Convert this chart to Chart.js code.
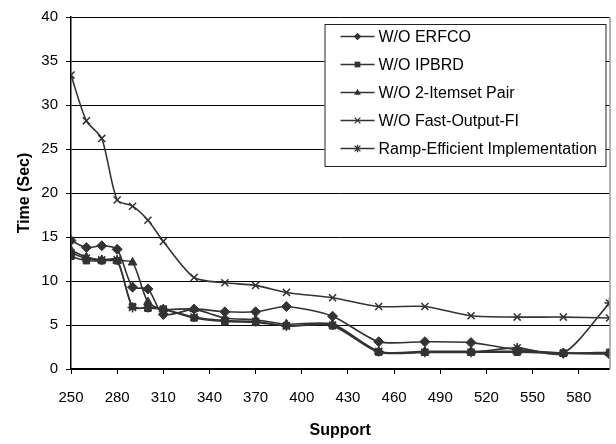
<!DOCTYPE html>
<html><head><meta charset="utf-8">
<script src="https://cdn.jsdelivr.net/npm/chart.js@4/dist/chart.umd.min.js"></script>
<style>html,body{margin:0;padding:0;background:#fff;}#wrap{width:616px;height:444px;position:relative;}</style>
</head><body><div id="wrap"><canvas id="c" width="616" height="444"></canvas></div>
<script>
const supports = [250,260,270,280,290,300,310,330,350,370,390,420,450,480,510,540,570,600];
const xTickValues = [250,280,310,340,370,400,430,460,490,520,550,580];
const seriesNames = ['W/O ERFCO','W/O IPBRD','W/O 2-Itemset Pair','W/O Fast-Output-FI','Ramp-Efficient Implementation'];
const woERFCO    = [14.6,13.8,14.0,13.6,9.3,9.1,6.2,6.8,6.5,6.5,7.1,6.0,3.1,3.1,3.0,2.2,1.8,1.7];
const woIPBRD    = [12.8,12.3,12.3,12.3,7.1,6.9,6.8,5.8,5.4,5.3,4.9,4.9,1.9,1.9,1.9,1.9,1.8,1.9];
const wo2Itemset = [13.5,12.7,12.4,12.3,12.1,7.6,6.8,6.8,5.8,5.6,5.1,5.1,2.0,2.0,2.0,2.0,1.8,1.8];
const woFastOut  = [33.4,28.2,26.2,19.2,18.5,16.9,14.5,10.4,9.8,9.5,8.7,8.1,7.1,7.1,6.05,5.9,5.9,5.8];
const rampEff    = [13.2,12.6,12.4,12.4,7.0,7.0,6.8,5.9,5.5,5.4,4.9,5.0,2.0,1.9,1.9,2.4,1.8,7.5];
const yTickStep = 5, yMin = 0, yMax = 40, xMin = 250, xMax = 600;

const seriesValues = [woERFCO, woIPBRD, wo2Itemset, woFastOut, rampEff];
const styles = [
  {pointStyle:'rectRot', radius:5},
  {pointStyle:'rect', radius:4.5},
  {pointStyle:'triangle', radius:5},
  {pointStyle:'crossRot', radius:5},
  {pointStyle:'star', radius:5}
];
const LINE = '#333333';
const FONT = "'Liberation Sans', Arial, sans-serif";

function drawMarker(ctx, style, x, y, r){
  ctx.save();
  ctx.fillStyle = LINE; ctx.strokeStyle = LINE; ctx.lineWidth = 1.3;
  ctx.beginPath();
  if(style==='rectRot'){ctx.moveTo(x,y-r);ctx.lineTo(x+r,y);ctx.lineTo(x,y+r);ctx.lineTo(x-r,y);ctx.closePath();ctx.fill();}
  else if(style==='rect'){ctx.rect(x-r*0.75,y-r*0.75,r*1.5,r*1.5);ctx.fill();}
  else if(style==='triangle'){ctx.moveTo(x,y-r);ctx.lineTo(x+r*0.9,y+r*0.6);ctx.lineTo(x-r*0.9,y+r*0.6);ctx.closePath();ctx.fill();}
  else if(style==='crossRot'){const d=r*0.75;ctx.moveTo(x-d,y-d);ctx.lineTo(x+d,y+d);ctx.moveTo(x+d,y-d);ctx.lineTo(x-d,y+d);ctx.stroke();}
  else {const d=r*0.75;ctx.moveTo(x-d,y-d);ctx.lineTo(x+d,y+d);ctx.moveTo(x+d,y-d);ctx.lineTo(x-d,y+d);ctx.moveTo(x,y-r);ctx.lineTo(x,y+r);ctx.stroke();}
  ctx.restore();
}

const boxPlugin = {
  id:'boxLegend',
  afterDraw(chart){
    const ctx = chart.ctx, a = chart.chartArea;
    ctx.save();
    ctx.strokeStyle = '#999'; ctx.lineWidth = 1.5;
    ctx.beginPath(); ctx.moveTo(a.right+0.5, a.top); ctx.lineTo(a.right+0.5, a.bottom); ctx.stroke();
    const L = a.right - 285, T = a.top + 7, W = 281, H = 142;
    ctx.fillStyle = '#fff'; ctx.fillRect(L, T, W, H);
    ctx.strokeStyle = '#222'; ctx.lineWidth = 1;
    ctx.strokeRect(L+0.5, T+0.5, W, H);
    ctx.font = '16px ' + FONT; ctx.textBaseline = 'middle'; ctx.textAlign = 'left'; ctx.fillStyle = '#000';
    seriesNames.forEach((name,i)=>{
      const y = T + 12.5 + i*28;
      ctx.strokeStyle = LINE; ctx.lineWidth = 1.3;
      ctx.beginPath(); ctx.moveTo(L+16, y); ctx.lineTo(L+50, y); ctx.stroke();
      drawMarker(ctx, styles[i].pointStyle, L+33, y, 3.8);
      ctx.fillStyle = '#000';
      ctx.fillText(name, L+54, y+1);
    });
    ctx.restore();
  }
};

const datasets = seriesNames.map((name,i)=>({
  label: name,
  data: supports.map((x,j)=>({x:x, y:seriesValues[i][j]})),
  borderColor: LINE, backgroundColor: LINE,
  borderWidth: 1.6,
  pointStyle: styles[i].pointStyle,
  pointRadius: styles[i].radius,
  pointBorderWidth: (i>=3)?1.5:1,
  pointBackgroundColor: LINE, pointBorderColor: LINE,
  tension: 0.25, fill:false
}));

new Chart(document.getElementById('c'), {
  type:'line',
  data:{datasets},
  options:{
    responsive:false, animation:false, devicePixelRatio:1,
    layout:{padding:{top:14,right:6,left:0,bottom:0}},
    plugins:{legend:{display:false}, tooltip:{enabled:false}},
    scales:{
      x:{type:'linear', min:xMin, max:xMax,
        afterBuildTicks:(s)=>{s.ticks = xTickValues.map(v=>({value:v}));},
        afterFit:(s)=>{s.height = 75;},
        grid:{drawOnChartArea:false, drawTicks:true, tickLength:5, color:'#000', lineWidth:1},
        border:{display:true, color:'#000', width:1.5},
        ticks:{font:{family:FONT, size:15}, color:'#000', padding:15, maxRotation:0, autoSkip:false},
        title:{display:true, text:'Support', font:{family:FONT, size:16, weight:'bold'}, color:'#000', padding:{top:0,bottom:4}}
      },
      y:{min:yMin, max:yMax,
        afterFit:(s)=>{s.width = 71;},
        ticks:{stepSize:yTickStep, font:{family:FONT, size:15}, color:'#000', padding:8},
        grid:{color:'#000', lineWidth:1, drawTicks:true, tickLength:5},
        border:{display:true, color:'#000', width:1.5},
        title:{display:true, text:'Time (Sec)', font:{family:FONT, size:16, weight:'bold'}, color:'#000', padding:{top:15,bottom:0}}
      }
    }
  },
  plugins:[boxPlugin]
});
</script></body></html>
